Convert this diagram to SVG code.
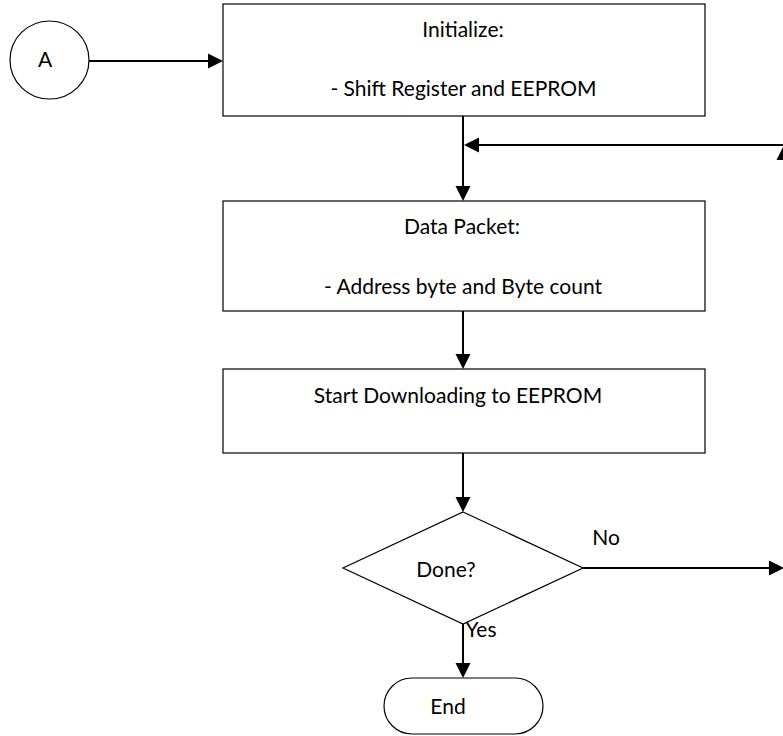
<svg xmlns="http://www.w3.org/2000/svg" width="783" height="736" viewBox="0 0 783 736">
<style>
.shape{fill:#fff;stroke:#000;stroke-width:1.2}
.conn{fill:none;stroke:#000;stroke-width:2}
.head{fill:#000}
text{font-family:Lato,"Liberation Sans",sans-serif;font-size:21px;fill:#000;text-anchor:middle}
</style>
<rect width="783" height="736" fill="#fff"/>
<g id="nodeA"><ellipse class="shape" cx="49.5" cy="60" rx="39.5" ry="39"/><text x="45" y="67">A</text></g>
<g id="init"><rect class="shape" x="223" y="4" width="482" height="112"/><text x="463" y="37">Initialize:</text><text x="463.5" y="96">- Shift Register and EEPROM</text></g>
<g id="packet"><rect class="shape" x="223" y="201" width="482" height="110"/><text x="462" y="234">Data Packet:</text><text x="463" y="294">- Address byte and Byte count</text></g>
<g id="download"><rect class="shape" x="223" y="369" width="482" height="84"/><text x="458" y="403">Start Downloading to EEPROM</text></g>
<g id="done"><polygon class="shape" points="463,512 583,568 463,624 343,568"/><text x="446" y="577">Done?</text></g>
<g id="end"><rect class="shape" x="384" y="678" width="159" height="56" rx="28" ry="28"/><text x="448" y="714">End</text></g>
<g id="connectors">
<line class="conn" x1="89" y1="61" x2="209" y2="61"/><polygon class="head" points="223,61 208,53.5 208,68.5"/>
<line class="conn" x1="463" y1="116" x2="463" y2="186"/><polygon class="head" points="463,201 455.5,186 470.5,186"/>
<line class="conn" x1="783" y1="145" x2="478" y2="145"/><polygon class="head" points="464,145 479,137.5 479,152.5"/>
<polygon class="head" points="784,145 776.5,160 791.5,160"/>
<line class="conn" x1="463" y1="311" x2="463" y2="355"/><polygon class="head" points="463,369 455.5,354 470.5,354"/>
<line class="conn" x1="463" y1="453" x2="463" y2="497"/><polygon class="head" points="463,512 455.5,497 470.5,497"/>
<line class="conn" x1="583" y1="568" x2="770" y2="568"/><polygon class="head" points="784,568 769,560.5 769,575.5"/>
<text x="606" y="545">No</text>
<line class="conn" x1="463" y1="624" x2="463" y2="664"/><polygon class="head" points="463,678 455.5,663 470.5,663"/>
<text x="481" y="637">Yes</text>
</g>
</svg>
